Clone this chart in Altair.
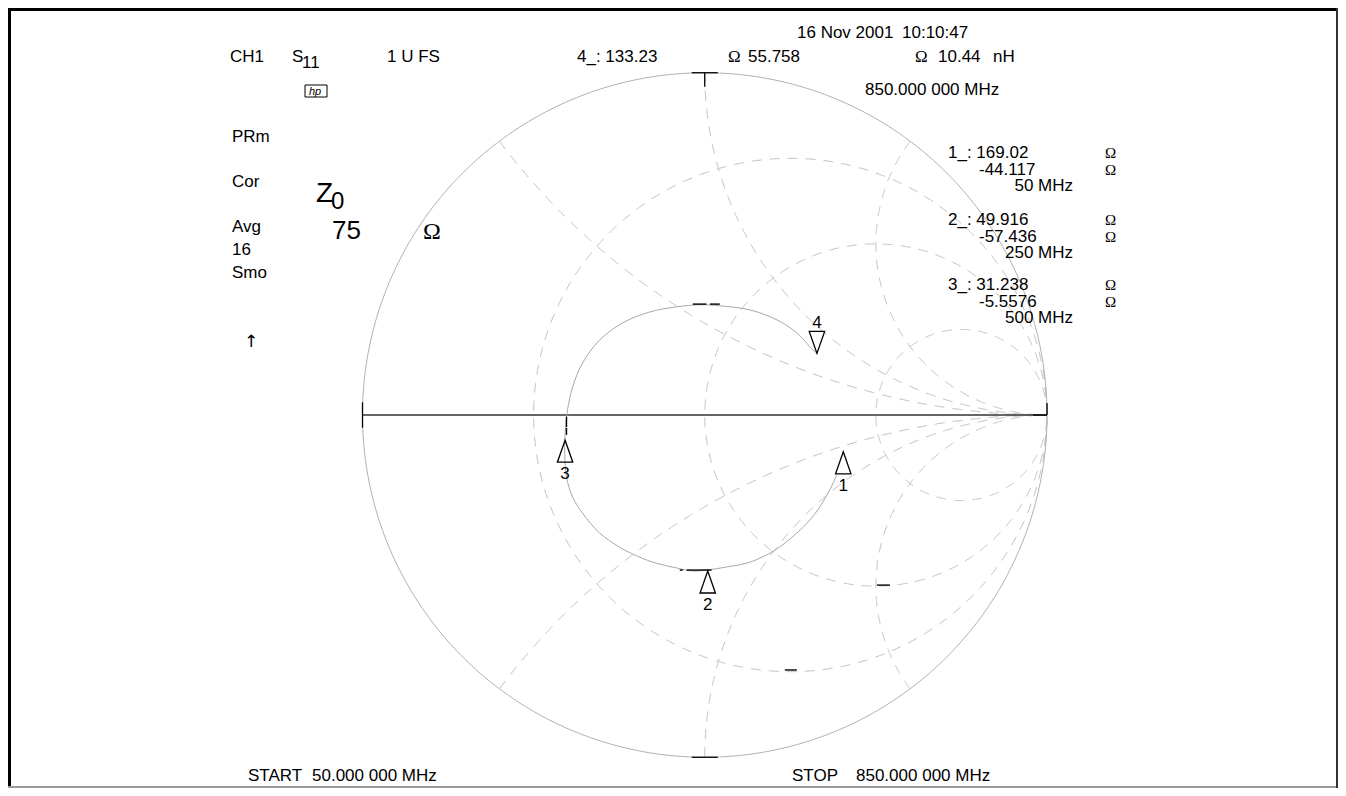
import altair as alt
import numpy as np
import pandas as pd

# ---------------- values ----------------
Z0 = 75.0
marker_ids = ["1", "2", "3", "4"]
marker_R = [169.02, 49.916, 31.238, 133.23]          # ohm
marker_X = [-44.117, -57.436, -5.5576, 55.758]       # ohm
marker_freq = ["50 MHz", "250 MHz", "500 MHz", "850.000 000 MHz"]
marker_active = [False, False, False, True]
marker4_L = "10.44"

# measured S11 trace (reflection coefficient, real / imaginary), 50 -> 850 MHz
trace_re = [0.386, 0.365, 0.336, 0.307, 0.269, 0.205, 0.132, 0.064, 0.006, -0.035,
            -0.082, -0.152, -0.211, -0.249, -0.307, -0.357, -0.386, -0.404, -0.409, -0.409,
            -0.406, -0.401, -0.386, -0.357, -0.307, -0.240, -0.161, -0.082, -0.015, 0.044,
            0.132, 0.211, 0.269, 0.316, 0.328]
trace_im = [-0.175, -0.219, -0.269, -0.307, -0.345, -0.395, -0.430, -0.444, -0.453, -0.456,
            -0.447, -0.430, -0.406, -0.386, -0.345, -0.287, -0.240, -0.181, -0.117, -0.073,
            -0.029, 0.015, 0.082, 0.152, 0.219, 0.269, 0.301, 0.316, 0.322, 0.319,
            0.307, 0.278, 0.240, 0.190, 0.181]

# graticule values
grid_r = [1 / 3, 1.0, 3.0]
grid_x = [0.5, 1.0, 2.0, -0.5, -1.0, -2.0]

# short black pen marks seen on the plot (gamma coordinates: x1, x2, y1, y2)
pen_x1 = [-0.035, 0.015, -0.073, -0.053, -0.404, -0.404, 0.503, 0.234]
pen_x2 = [0.005, 0.044, -0.064, 0.020, -0.404, -0.404, 0.541, 0.269]
pen_y1 = [0.324, 0.324, -0.453, -0.453, -0.005, -0.038, -0.497, -0.745]
pen_y2 = [0.324, 0.324, -0.453, -0.453, -0.035, -0.058, -0.497, -0.745]

left_labels = ["PRm", "Cor", "Avg", "16", "Smo"]
date_txt = ["16 Nov 2001", "10:10:47"]
start_txt = ["START", "50.000 000 MHz"]
stop_txt = ["STOP", "850.000 000 MHz"]

# ---------------- layout ----------------
W, H = 1330, 780
R = 342.25
CX, CY = 704.75, 415.0          # page coords of chart centre
FONT = "Liberation Sans"
SERIF = "Liberation Serif"
GRID_C = "#c2c2c2"
TRACE_C = "#a8a8a8"

xs = alt.Scale(domain=[(8 - CX) / R, (8 + W - CX) / R], nice=False, zero=False)
ys = alt.Scale(domain=[(CY - 8 - H) / R, (CY - 8) / R], nice=False, zero=False)
X = alt.X("gx:Q", scale=xs, axis=None)
Y = alt.Y("gy:Q", scale=ys, axis=None)
X2 = alt.X2("gx2:Q")
Y2 = alt.Y2("gy2:Q")

# ---------------- graticule ----------------
rows = []
phi = np.linspace(0, 2 * np.pi, 721)
for i, r in enumerate(grid_r):
    c, rad = r / (1 + r), 1 / (1 + r)
    for k, p in enumerate(phi):
        rows.append({"id": f"r{i}", "k": k, "gx": c + rad * np.cos(p), "gy": rad * np.sin(p)})
rr = np.concatenate([np.linspace(0, 1, 150, endpoint=False), np.geomspace(1, 20000, 500)])
for i, xv in enumerate(grid_x):
    z = rr + 1j * xv
    g = (z - 1) / (z + 1)
    for k, gg in enumerate(g):
        rows.append({"id": f"x{i}", "k": k, "gx": gg.real, "gy": gg.imag})
grid_df = pd.DataFrame(rows)
outer_df = pd.DataFrame({"id": "o", "k": np.arange(len(phi)), "gx": np.cos(phi), "gy": np.sin(phi)})

grid = alt.Chart(grid_df).mark_line(color=GRID_C, strokeWidth=1, strokeDash=[10, 8]).encode(
    x=X, y=Y, detail="id:N", order="k:Q")
outer = alt.Chart(outer_df).mark_line(color="#b0b0b0", strokeWidth=1).encode(
    x=X, y=Y, detail="id:N", order="k:Q")

axis_df = pd.DataFrame({"gx": [-1.0], "gx2": [1.0], "gy": [0.0]})
axis_line = alt.Chart(axis_df).mark_rule(color="#333333", strokeWidth=1.6).encode(x=X, x2=X2, y=Y)

# edge ticks of the graticule
tk = 0.038
ticks_df = pd.DataFrame({
    "gx": [-tk, 0.0, -tk, -1.0, 1.0, 1 - 0.041],
    "gx2": [tk, 0.0, tk, -1.0, 1.0, 1.0],
    "gy": [1.0, 1.0, -1.0, -0.037, 0.0, 0.0],
    "gy2": [1.0, 1 - 0.041, -1.0, 0.037, 0.035, 0.0],
})
ticks = alt.Chart(ticks_df).mark_rule(color="black", strokeWidth=1.3).encode(x=X, x2=X2, y=Y, y2=Y2)

# ---------------- trace ----------------
trace_df = pd.DataFrame({"k": np.arange(len(trace_re)), "gx": trace_re, "gy": trace_im})
trace = alt.Chart(trace_df).mark_line(color=TRACE_C, strokeWidth=1, interpolate="catmull-rom").encode(
    x=X, y=Y, order="k:Q")

pen_df = pd.DataFrame({"gx": pen_x1, "gx2": pen_x2, "gy": pen_y1, "gy2": pen_y2})
pens = alt.Chart(pen_df).mark_rule(color="black", strokeWidth=1.4).encode(x=X, x2=X2, y=Y, y2=Y2)

# ---------------- markers ----------------
zn = (np.array(marker_R) + 1j * np.array(marker_X)) / Z0
gam = (zn - 1) / (zn + 1)
mk_df = pd.DataFrame({"id": marker_ids, "gx": gam.real, "gy": gam.imag,
                      "dir": ["down" if a else "up" for a in marker_active]})
UP = "M0,0L0.7,2L-0.7,2Z"
DOWN = "M0,0L0.7,-2L-0.7,-2Z"
tri = alt.Chart(mk_df).mark_point(filled=False, color="black", strokeWidth=1.3, size=484, opacity=1).encode(
    x=X, y=Y,
    shape=alt.Shape("dir:N", scale=alt.Scale(domain=["up", "down"], range=[UP, DOWN]), legend=None))
lab_up = alt.Chart(mk_df).transform_filter("datum.dir == 'up'").mark_text(
    font=FONT, fontSize=17, dy=39, baseline="alphabetic", align="center", color="black").encode(
    x=X, y=Y, text="id:N")
lab_dn = alt.Chart(mk_df).transform_filter("datum.dir == 'down'").mark_text(
    font=FONT, fontSize=17, dy=-25, baseline="alphabetic", align="center", color="black").encode(
    x=X, y=Y, text="id:N")

# ---------------- annotation text ----------------
dummy = pd.DataFrame({"v": [0]})


def txt(s, px, py, size=17, font=FONT, align="left", style="normal"):
    return alt.Chart(dummy).mark_text(text=s, font=font, fontSize=size, align=align,
                                      baseline="alphabetic", color="black", fontStyle=style).encode(
        x=alt.value(px - 8), y=alt.value(py - 8))


def fmt(v):
    return f"{v:.5g}"


texts = [
    txt(date_txt[0], 797, 38), txt(date_txt[1], 902, 38),
    txt("CH1", 230, 62), txt("S", 292, 62), txt("11", 302, 68),
    txt("1 U FS", 387, 62),
    txt(f"{marker_ids[3]}_: {fmt(marker_R[3])}", 577, 62),
    txt("Ω", 728, 62, font=SERIF), txt(fmt(marker_X[3]), 748, 62),
    txt("Ω", 915, 62, font=SERIF), txt(marker4_L, 938, 62), txt("nH", 993, 62),
    txt(marker_freq[3], 865, 95),
    txt("hp", 309, 95, size=11, style="italic"),
    txt(left_labels[0], 232, 142), txt(left_labels[1], 232, 187),
    txt(left_labels[2], 232, 232), txt(left_labels[3], 232, 255), txt(left_labels[4], 232, 278),
    txt("↑", 251, 347, size=17, align="center", font="DejaVu Sans"),
    txt("Z", 316, 202, size=28), txt("0", 331, 209, size=24),
    txt(fmt(Z0), 332, 239, size=26), txt("Ω", 423, 239, size=24, font=SERIF),
    txt(start_txt[0], 248, 781, size=17), txt(start_txt[1], 312, 781, size=17),
    txt(stop_txt[0], 792, 781, size=17), txt(stop_txt[1], 856, 781, size=17),
]
base_y = [158, 225, 290]
for i in range(3):
    by = base_y[i]
    texts += [
        txt(f"{marker_ids[i]}_: {fmt(marker_R[i])}", 948, by),
        txt(fmt(marker_X[i]), 979, by + 17),
        txt(marker_freq[i], 1073, by + 33, align="right"),
        txt("Ω", 1105, by, size=15, font=SERIF),
        txt("Ω", 1105, by + 17, size=15, font=SERIF),
    ]

# hp logo box and page frame
box = alt.Chart(dummy).mark_rect(fill=None, stroke="black", strokeWidth=1).encode(
    x=alt.value(305 - 8), x2=alt.value(327 - 8), y=alt.value(85 - 8), y2=alt.value(97 - 8))


def vrule(px, py1, py2, color, w):
    return alt.Chart(dummy).mark_rule(color=color, strokeWidth=w).encode(
        x=alt.value(px), y=alt.value(py1), y2=alt.value(py2))


def hrule(py, px1, px2, color, w):
    return alt.Chart(dummy).mark_rule(color=color, strokeWidth=w).encode(
        y=alt.value(py), x=alt.value(px1), x2=alt.value(px2))


frame = [
    hrule(1.5, 0, W, "black", 3), vrule(1.5, 0, H, "black", 3),
    hrule(H - 1, 0, W, "#9a9a9a", 2), vrule(W - 1, 0, H, "#333333", 2),
]

chart = alt.layer(
    grid, outer, axis_line, ticks, trace, pens, tri, lab_up, lab_dn, box, *texts, *frame
).properties(width=W, height=H, padding=0, autosize=alt.AutoSizeParams(type="none")
).configure_view(stroke=None)

chart.save("out.html", embed_options={"renderer": "svg", "actions": False})
